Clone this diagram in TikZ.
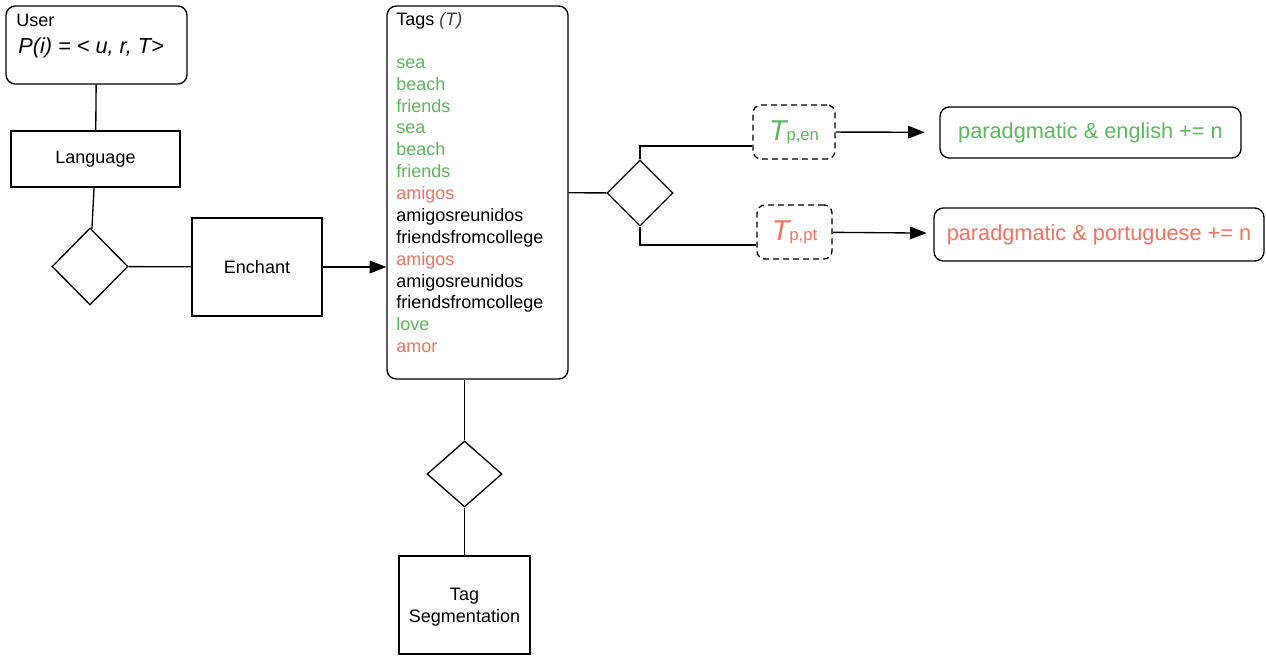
\documentclass[tikz,border=0pt]{standalone}
\usepackage{fontspec}
\setmainfont{Liberation Sans}
\usetikzlibrary{shapes.geometric,arrows.meta,calc}
\definecolor{TagGreen}{RGB}{92,184,92}
\definecolor{TagRed}{RGB}{240,116,98}
\tikzset{
  ebox/.style={rectangle,draw=black,line width=1pt,fill=white,
               font=\fontsize{13.5}{16.35}\selectfont,align=center,inner sep=2pt},
  rbox/.style={ebox,rounded corners=7pt},
  tbox/.style={rbox,dash pattern=on 4.5pt off 3pt,rounded corners=6pt},
  rel/.style={diamond,draw=black,line width=1pt,fill=white,inner sep=0pt},
  elink/.style={draw=black,line width=1pt},
  earrow/.style={elink,-{Triangle[length=12.5pt,width=9.5pt]}},
}

\begin{document}
\begin{tikzpicture}[x=0.75pt,y=-0.75pt]
    \useasboundingbox (0,0) rectangle (1266,657);
    % user and language
    \node[rbox,minimum width=135.75pt,minimum height=58.5pt] (user) at (96.5,45) {};
    \node[anchor=base west,inner sep=0pt,font=\fontsize{13.5}{16}\selectfont] (usertitle) at (16,26) {User};
    \node[anchor=base west,inner sep=0pt,font=\fontsize{16.3}{19}\selectfont\itshape] (profile) at (18,53) {P(i) = < u, r, T>};
    \node[ebox,minimum width=126.75pt,minimum height=42pt] (lang) at (95.5,159) {Language};
    \node[rel,minimum width=57pt,minimum height=57.75pt] (d1) at (90,266.5) {};
    \node[ebox,minimum width=97.5pt,minimum height=73.5pt] (enchant) at (257,267) {Enchant};
    % tags
    \node[rbox,minimum width=135.75pt,minimum height=279.75pt] (tags) at (477.5,192.5) {};
    \node[anchor=north west,inner sep=0pt,align=left,font=\fontsize{13.5}{16.4}\selectfont] (taglist) at (396,12.5)
      {Tags {\color{black!75}\itshape (T)}\\[15.5pt]
       \textcolor{TagGreen}{sea}\\
       \textcolor{TagGreen}{beach}\\
       \textcolor{TagGreen}{friends}\\
       \textcolor{TagGreen}{sea}\\
       \textcolor{TagGreen}{beach}\\
       \textcolor{TagGreen}{friends}\\
       \textcolor{TagRed}{amigos}\\
       amigosreunidos\\
       friendsfromcollege\\
       \textcolor{TagRed}{amigos}\\
       amigosreunidos\\
       friendsfromcollege\\
       \textcolor{TagGreen}{love}\\
       \textcolor{TagRed}{amor}};
    % language split
    \node[rel,minimum width=49.5pt,minimum height=49.5pt] (d2) at (640,193) {};
    \node[tbox,minimum width=61.5pt,minimum height=40.5pt,text=TagGreen] (tpen) at (794,132)
      {{\fontsize{21.5}{21}\selectfont\itshape T}{\fontsize{12.5}{13}\selectfont p,en}};
    \node[tbox,minimum width=56.25pt,minimum height=40.5pt,text=TagRed] (tppt) at (794.5,232)
      {{\fontsize{21.5}{21}\selectfont\itshape T}{\fontsize{12.5}{13}\selectfont p,pt}};
    \node[rbox,minimum width=225.75pt,minimum height=38.25pt,text=TagGreen,
          font=\fontsize{16.3}{19}\selectfont] (engl) at (1090.5,132.5) {paradgmatic \& english += n};
    \node[rbox,minimum width=247.5pt,minimum height=39.75pt,text=TagRed,
          font=\fontsize{16.3}{19}\selectfont] (port) at (1099,234.5) {paradgmatic \& portuguese += n};
    % segmentation
    \node[rel,minimum width=56.25pt,minimum height=49.5pt] (d3) at (464.5,474) {};
    \node[ebox,minimum width=98.25pt,minimum height=73.5pt,text depth=0pt] (seg) at (464.5,605) {Tag\\Segmentation};
    % connectors
    \draw[elink] (user) -- (lang);
    \draw[elink] (lang) -- (d1);
    \draw[elink] (d1) -- (enchant);
    \draw[earrow] (enchant.east) -- (enchant.east -| tags.west);
    \draw[elink] (tags) -- (d2);
    \draw[elink] (d2.north) |- ([yshift=-10.5pt]tpen.west);
    \draw[elink] (d2.south) |- ([yshift=-9.75pt]tppt.west);
    \draw[earrow,shorten >=11pt] (tpen) -- (engl);
    \draw[earrow,shorten >=5pt] (tppt) -- (port);
    \draw[elink] (tags.south -| d3) -- (d3);
    \draw[elink] (d3) -- (seg);
\end{tikzpicture}
\end{document}
